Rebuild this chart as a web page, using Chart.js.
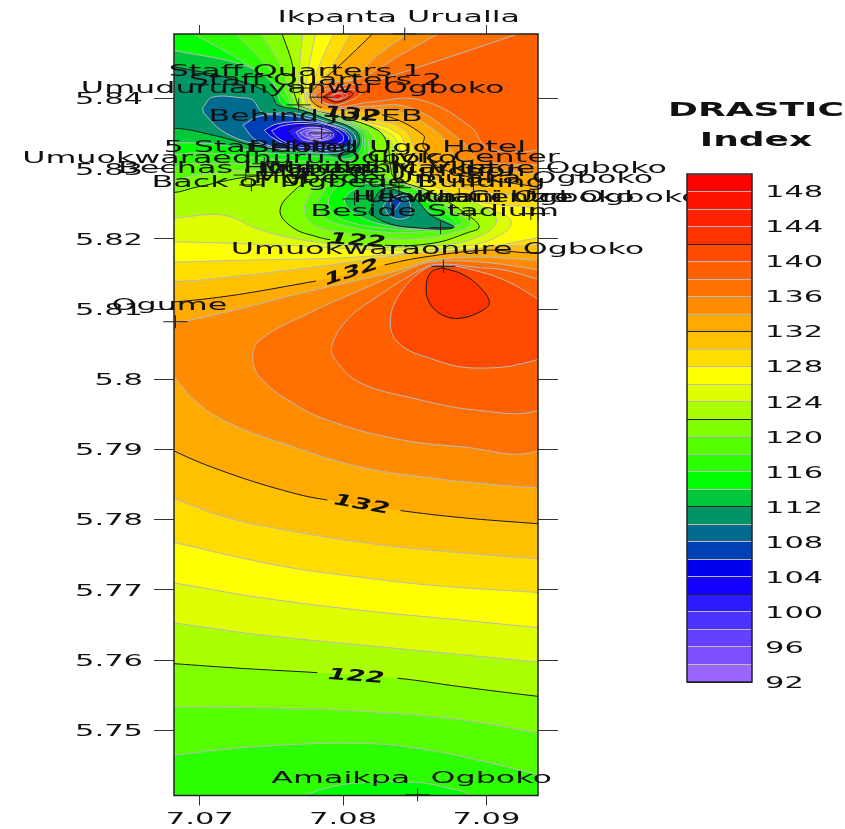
<!DOCTYPE html>
<html>
<head>
<meta charset="utf-8">
<title>DRASTIC Index</title>
<script src="https://cdn.jsdelivr.net/npm/chart.js@4"></script>
<style>
  html, body { margin: 0; padding: 0; background: #fff; }
  #wrap { position: relative; width: 845px; height: 829px; overflow: hidden; }
  #map { position: absolute; left: 0; top: 0; }
  #key { position: absolute; left: 650px; top: 90px; }
</style>
</head>
<body>
<div id="wrap">
  <canvas id="map" width="845" height="829"></canvas>
  <canvas id="key" width="195" height="610"></canvas>
</div>
<script>
// ============================
// 1. Axes, ticks, colour key
// ============================

const lonMin = 7.0682, lonMax = 7.0936;
const latMin = 5.7407, latMax = 5.8492;
const xTicks = [7.07, 7.08, 7.09];
const yTicks = [5.75, 5.76, 5.77, 5.78, 5.79, 5.8, 5.81, 5.82, 5.83, 5.84];

const bandLows = [92, 94, 96, 98, 100, 102, 104, 106, 108, 110, 112, 114, 116, 118, 120,
  122, 124, 126, 128, 130, 132, 134, 136, 138, 140, 142, 144, 146, 148];
const bandColors = ['#9966ff', '#7f4fff', '#6640ff', '#4d33ff', '#2b1aff', '#1400ff', '#0000ee', '#0040b5', '#006a8f', '#009466', '#00c83a', '#00ff00', '#2bff00',
  '#55ff00', '#80ff00', '#aaff00', '#ddff00', '#ffff00', '#ffdd00', '#ffc000', '#ffaa00', '#ff8c00', '#ff7000', '#ff6000', '#ff4a00', '#ff3300', '#ff2200', '#ff1100', '#ff0000'];
const keyLabels = [92, 96, 100, 104, 108, 112, 116, 120, 124, 128, 132, 136, 140, 144, 148];

// ============================
// 2. Sampling sites
// ============================

const siteNames = ['Ikpanta Urualla', 'Staff Quarters 1', 'Staff Quarters 2', 'Umuduruanyanwu Ogboko', 'Behind JUPEB',
  '5 Star Hotel', 'Umuokwaraedhuru Ogboko', 'Bechas Hospital', 'Back of Mgbede Building', 'Behind Ugo Hotel',
  'Civic Center', 'Mechanic Village Ogboko', 'Mgbede Umuaka Ogboko', 'Health Centre', 'Ukwuani Uzo Ogboko', 'Kaani Ogboko',
  'Ogboko Market', 'Mgbede Junction', 'Beside Stadium', 'Umuokwaraonure Ogboko', 'Ogume', 'Amaikpa  Ogboko'];
const siteLon = [7.0843, 7.0771, 7.0785, 7.0769, 7.0785,
  7.0745, 7.0732, 7.0736, 7.0808, 7.0835,
  7.0888, 7.0891, 7.0881, 7.0888, 7.0936, 7.0931,
  7.0829, 7.0839, 7.0868, 7.0870, 7.0683, 7.0852];
const siteLat = [5.8492, 5.8415, 5.8402, 5.8391, 5.8351,
  5.8307, 5.8291, 5.8277, 5.8257, 5.8307,
  5.8293, 5.8277, 5.8263, 5.8236, 5.8236, 5.8236,
  5.8277, 5.8273, 5.8216, 5.8161, 5.8082, 5.7408];

// labels printed on the black contours
const contourLabelValues = [122, 132, 132, 132, 122];
const contourLabelLon = [7.0810, 7.0806, 7.0806, 7.0813, 7.0809];
const contourLabelLat = [5.8197, 5.8152, 5.8377, 5.7821, 5.7576];
const contourLabelAngle = [4, -18, 5, 10, 4];

// ============================
// 3. Contours
// ============================

// corners well outside the frame, the clip cuts them
const W = 7.06, E = 7.1, N = 5.86, S = 5.73;

const north138 = [[7.0926,5.8495],[7.0868,5.8455],[7.0819,5.8424],[7.0798,5.8418],[7.0781,5.8405],[7.0794,5.8389],[7.0819,5.8395],[7.0854,5.8398],[7.0889,5.8360],[7.0900,5.8331],[7.0924,5.8324],[7.0937,5.8327],[7.096,5.8330],[E,S],[W,S],[W,N]];
const north136 = [[7.0869,5.8495],[7.0840,5.8462],[7.0812,5.8429],[7.0791,5.8421],[7.0780,5.8405],[7.0791,5.8387],[7.0815,5.8389],[7.0847,5.8387],[7.0882,5.8341],[7.0896,5.8313],[7.0937,5.8305],[7.096,5.8302],[E,S],[W,S],[W,N]];
const north134 = [[7.0847,5.8495],[7.0822,5.8458],[7.0805,5.8426],[7.0787,5.8424],[7.0778,5.8404],[7.0787,5.8384],[7.0812,5.8384],[7.0840,5.8381],[7.0868,5.8348],[7.0882,5.8313],[7.0937,5.8291],[7.096,5.8284],[E,S],[W,S],[W,N]];
const north132 = [[7.0822,5.8495],[7.0798,5.8448],[7.0785,5.8424],[7.0777,5.8404],[7.0785,5.8387],[7.0827,5.8377],[7.0856,5.8348],[7.0856,5.8331],[7.0871,5.8298],[7.0937,5.8273],[7.0972,5.8256],[7.0972,5.8199],[7.0937,5.8181],[7.0900,5.8184],[7.0856,5.8174],[7.0829,5.8163],[7.0781,5.8140],[7.0681,5.8110],[W,5.811],[W,N]];
const north130 = [[7.0806,5.8495],[7.0787,5.8429],[7.0780,5.8421],[7.0776,5.8404],[7.0783,5.8384],[7.0819,5.8372],[7.0843,5.8355],[7.0850,5.8327],[7.0857,5.8295],[7.0889,5.8270],[7.0937,5.8259],[7.0972,5.8241],[7.0972,5.8206],[7.0937,5.8191],[7.0889,5.8191],[7.0840,5.8177],[7.0791,5.8163],[7.0735,5.8149],[7.0681,5.8139],[W,5.8139],[W,N]];
const north128 = [[7.0794,5.8495],[7.0785,5.8455],[7.0778,5.8419],[7.0774,5.8404],[7.0780,5.8384],[7.0812,5.8369],[7.0838,5.8351],[7.0845,5.8324],[7.0852,5.8291],[7.0889,5.8256],[7.0937,5.8244],[7.0972,5.8234],[7.0972,5.8213],[7.0937,5.8202],[7.0896,5.8187],[7.0854,5.8181],[7.0798,5.8173],[7.0735,5.8170],[7.0681,5.8167],[W,5.8167],[W,N]];
const north126 = [[7.0781,5.8495],[7.0777,5.8455],[7.0774,5.8419],[7.0773,5.8404],[7.0777,5.8387],[7.0806,5.8369],[7.0834,5.8348],[7.0841,5.8320],[7.0847,5.8287],[7.0871,5.8256],[7.0903,5.8241],[7.0917,5.8227],[7.0913,5.8210],[7.0889,5.8191],[7.0840,5.8184],[7.0770,5.8190],[7.0681,5.8196],[W,5.8196],[W,N]];
const north124 = [[7.0772,5.8495],[7.0770,5.8455],[7.0769,5.8419],[7.0770,5.8402],[7.0773,5.8389],[7.0801,5.8369],[7.0830,5.8345],[7.0837,5.8320],[7.0841,5.8284],[7.0868,5.8263],[7.0896,5.8248],[7.0907,5.8224],[7.0889,5.8199],[7.0854,5.8189],[7.0819,5.8189],[7.0789,5.8194],[7.0765,5.8201],[7.0742,5.8213],[7.0716,5.8234],[7.0681,5.8230],[W,5.823],[W,N]];
const north122 = [[7.0757,5.8495],[7.0765,5.8445],[7.0765,5.8419],[7.0767,5.8401],[7.0770,5.8389],[7.0798,5.8374],[7.0824,5.8355],[7.0831,5.8334],[7.0833,5.8305],[7.0836,5.8287],[7.0861,5.8267],[7.0887,5.8234],[7.0895,5.8217],[7.0887,5.8209],[7.0863,5.8194],[7.0829,5.8191],[7.0791,5.8199],[7.0782,5.8203],[7.0765,5.8216],[7.0756,5.8241],[7.0768,5.8273],[7.0777,5.8284],[7.0742,5.8290],[7.0698,5.8274],[7.0681,5.8266],[W,5.8266],[W,N]];
const north120 = [[7.0742,5.8495],[7.0756,5.8448],[7.0762,5.8415],[7.0765,5.8398],[7.0766,5.8391],[7.0793,5.8375],[7.0817,5.8355],[7.0822,5.8334],[7.0824,5.8305],[7.0831,5.8287],[7.0854,5.8270],[7.0882,5.8234],[7.0889,5.8221],[7.0878,5.8210],[7.0857,5.8201],[7.0826,5.8201],[7.0798,5.8210],[7.0780,5.8220],[7.0773,5.8241],[7.0778,5.8266],[7.0787,5.8287],[7.0742,5.8298],[7.0698,5.8291],[7.0681,5.8284],[W,5.8284],[W,N]];
const north118 = [[7.0724,5.8495],[7.0749,5.8441],[7.0759,5.8412],[7.0763,5.8395],[7.0764,5.8389],[7.0789,5.8375],[7.0814,5.8355],[7.0818,5.8331],[7.0817,5.8305],[7.0826,5.8287],[7.0847,5.8274],[7.0875,5.8239],[7.0883,5.8224],[7.0873,5.8216],[7.0854,5.8210],[7.0826,5.8210],[7.0801,5.8219],[7.0787,5.8230],[7.0782,5.8248],[7.0787,5.8270],[7.0796,5.8295],[7.0749,5.8305],[7.0700,5.8308],[7.0681,5.8303],[W,5.8303],[W,N]];
const north116 = [[7.0693,5.8495],[7.0728,5.8455],[7.0752,5.8419],[7.0762,5.8394],[7.0785,5.8375],[7.0812,5.8355],[7.0815,5.8331],[7.0810,5.8315],[7.0794,5.8310],[7.0749,5.8314],[7.0700,5.8323],[7.0681,5.8320],[W,5.832],[W,N]];
const north114 = [[7.0681,5.8469],[7.0730,5.8448],[7.0750,5.8424],[7.0759,5.8389],[7.0783,5.8375],[7.0810,5.8355],[7.0813,5.8331],[7.0805,5.8315],[7.0787,5.8317],[7.0745,5.8323],[7.0711,5.8335],[7.0681,5.8337],[W,5.8337],[W,5.8469]];
const north112 = [[7.0681,5.8446],[7.0721,5.8429],[7.0745,5.8412],[7.0751,5.8402],[7.0754,5.8391],[7.0770,5.8384],[7.0787,5.8372],[7.0808,5.8355],[7.0811,5.8334],[7.0801,5.8320],[7.0787,5.8322],[7.0742,5.8331],[7.0711,5.8347],[7.0681,5.8358],[W,5.8358],[W,5.8446]];

// low around Behind JUPEB
const jupeb110 = [[7.0702,5.8387],[7.0709,5.8402],[7.0730,5.8401],[7.0737,5.8398],[7.0744,5.8380],[7.0765,5.8380],[7.0787,5.8368],[7.0805,5.8354],[7.0809,5.8337],[7.0801,5.8324],[7.0773,5.8324],[7.0742,5.8334],[7.0718,5.8351],[7.0703,5.8379]];
const jupeb108 = [[7.0730,5.8362],[7.0742,5.8375],[7.0765,5.8375],[7.0787,5.8365],[7.0803,5.8352],[7.0806,5.8337],[7.0798,5.8328],[7.0765,5.8327],[7.0740,5.8340]];
const jupeb106 = [[7.0745,5.8355],[7.0754,5.8364],[7.0775,5.8367],[7.0793,5.8360],[7.0803,5.8348],[7.0803,5.8337],[7.0789,5.8331],[7.0765,5.8332],[7.0751,5.8344]];
const jupeb104 = [[7.0750,5.8354],[7.0759,5.8362],[7.0777,5.8364],[7.0793,5.8357],[7.0800,5.8347],[7.0799,5.8338],[7.0787,5.8334],[7.0766,5.8335],[7.0756,5.8342]];
const jupeb102 = [[7.0761,5.8354],[7.0768,5.8361],[7.0786,5.8361],[7.0796,5.8352],[7.0794,5.8342],[7.0784,5.8337],[7.0770,5.8338]];
const jupeb100 = [[7.0767,5.8352],[7.0773,5.8358],[7.0785,5.8358],[7.0793,5.8351],[7.0792,5.8344],[7.0783,5.8340],[7.0772,5.8341]];
const jupeb98 = [[7.0770,5.8351],[7.0776,5.8356],[7.0785,5.8355],[7.0791,5.8351],[7.0790,5.8345],[7.0781,5.8341],[7.0775,5.8344]];
const jupeb96 = [[7.0774,5.8351],[7.0778,5.8354],[7.0785,5.8354],[7.0789,5.8351],[7.0787,5.8347],[7.0781,5.8344],[7.0776,5.8345]];
const jupeb94 = [[7.0778,5.8351],[7.0781,5.8352],[7.0785,5.8352],[7.0786,5.8350],[7.0782,5.8347],[7.0778,5.8348]];

// low near the stadium
const stadium116 = [[7.0805,5.8287],[7.0840,5.8270],[7.0868,5.8241],[7.0879,5.8220],[7.0868,5.8219],[7.0850,5.8213],[7.0826,5.8216],[7.0805,5.8224],[7.0792,5.8238],[7.0791,5.8263]];
const stadium114 = [[7.0815,5.8280],[7.0843,5.8263],[7.0861,5.8238],[7.0878,5.8217],[7.0854,5.8214],[7.0829,5.8220],[7.0810,5.8234],[7.0801,5.8256]];
const stadium112 = [[7.0818,5.8237],[7.0827,5.8270],[7.0842,5.8266],[7.0851,5.8256],[7.0861,5.8234],[7.0877,5.8216],[7.0845,5.8217],[7.0829,5.8224]];
const stadium110 = [[7.0828,5.8247],[7.0834,5.8261],[7.0843,5.8261],[7.0847,5.8247],[7.0845,5.8231],[7.0834,5.8231]];
const stadium108 = [[7.0833,5.8251],[7.0837,5.8260],[7.0841,5.8258],[7.0838,5.8247],[7.0835,5.8241]];

// small peak by the staff quarters
const peak140 = [[7.0783,5.8402],[7.0794,5.8414],[7.0812,5.8408],[7.0798,5.8392],[7.0787,5.8394]];
const peak142 = [[7.0786,5.8402],[7.0795,5.8411],[7.0807,5.8407],[7.0796,5.8395]];
const peak144 = [[7.0790,5.8402],[7.0796,5.8408],[7.0803,5.8405],[7.0796,5.8398]];
const peak146 = [[7.0792,5.8402],[7.0796,5.8407],[7.0800,5.8404],[7.0796,5.8399]];

// big high south of Umuokwaraonure
const high134 = [[7.066,5.8077],[7.0681,5.8080],[7.0719,5.8096],[7.0765,5.8120],[7.0812,5.8142],[7.0840,5.8156],[7.0861,5.8169],[7.0896,5.8174],[7.0937,5.8170],[7.096,5.8173],[E,S],[W,S]];
const high136 = [[7.0937,5.8156],[7.0896,5.8167],[7.0861,5.8167],[7.0845,5.8156],[7.0812,5.8127],[7.0777,5.8095],[7.0742,5.8056],[7.0737,5.8031],[7.0742,5.8003],[7.0765,5.7966],[7.0789,5.7942],[7.0835,5.7916],[7.0882,5.7904],[7.0937,5.7899],[7.0972,5.7971],[7.0972,5.8113]];
const high138 = [[7.0937,5.8142],[7.0912,5.8156],[7.0896,5.8159],[7.0866,5.8164],[7.0854,5.8156],[7.0824,5.8118],[7.0803,5.8085],[7.0792,5.8046],[7.0796,5.8024],[7.0812,5.7995],[7.0847,5.7974],[7.0893,5.7956],[7.0937,5.7956],[7.0965,5.7999],[7.0965,5.8113]];
const high140 = [[7.0937,5.8113],[7.0917,5.8137],[7.0896,5.8153],[7.0868,5.8163],[7.0856,5.8156],[7.0840,5.8123],[7.0833,5.8085],[7.0838,5.8053],[7.0859,5.8031],[7.0893,5.8016],[7.0937,5.8029],[7.0958,5.8056],[7.0958,5.8099]];
const high142 = [[7.0869,5.8159],[7.0884,5.8149],[7.0896,5.8130],[7.0902,5.8110],[7.0898,5.8099],[7.0882,5.8087],[7.0869,5.8092],[7.0860,5.8110],[7.0858,5.8132],[7.0861,5.8152]];

// bands falling off to the south
const south134 = [[7.066,5.8040],[7.0681,5.8006],[7.0695,5.7973],[7.0719,5.7939],[7.0765,5.7904],[7.0812,5.7875],[7.0859,5.7860],[7.0905,5.7850],[7.0937,5.7845],[7.096,5.7842],[E,S],[W,S]];
const south132 = [[7.066,5.7925],[7.0681,5.7899],[7.0719,5.7867],[7.0765,5.7838],[7.0789,5.7828],[7.0840,5.7813],[7.0882,5.7803],[7.0937,5.7794],[7.096,5.7790],[E,S],[W,S]];
const south130 = [[7.066,5.7845],[7.0681,5.7831],[7.0719,5.7803],[7.0766,5.7783],[7.0812,5.7768],[7.0859,5.7757],[7.0937,5.7744],[7.096,5.7741],[E,S],[W,S]];
const south128 = [[7.066,5.7775],[7.0681,5.7768],[7.0719,5.7750],[7.0765,5.7731],[7.0812,5.7718],[7.0859,5.7707],[7.0937,5.7696],[7.096,5.7693],[E,S],[W,S]];
const south126 = [[7.066,5.7715],[7.0681,5.7710],[7.0742,5.7689],[7.0812,5.7671],[7.0882,5.7657],[7.0937,5.7646],[7.096,5.7642],[E,S],[W,S]];
const south124 = [[7.066,5.7657],[7.0681,5.7653],[7.0742,5.7636],[7.0835,5.7617],[7.0937,5.7597],[7.096,5.7592],[E,S],[W,S]];
const south122 = [[7.066,5.7598],[7.0681,5.7595],[7.0730,5.7588],[7.0782,5.7582],[7.0838,5.7574],[7.0882,5.7562],[7.0937,5.7548],[7.096,5.7543],[E,S],[W,S]];
const south120 = [[7.066,5.7533],[7.0681,5.7533],[7.0742,5.7532],[7.0812,5.7527],[7.0882,5.7515],[7.0937,5.7496],[7.096,5.7489],[E,S],[W,S]];
const south118 = [[7.066,5.7458],[7.0681,5.7464],[7.0742,5.7477],[7.0817,5.7481],[7.0859,5.7472],[7.0893,5.7458],[7.0937,5.7437],[7.096,5.7428],[E,S],[W,S]];
const south116 = [[7.0766,5.7401],[7.0789,5.7418],[7.0812,5.7425],[7.0847,5.7426],[7.0870,5.7419],[7.0890,5.7401],[7.0890,5.73],[7.0766,5.73]];

// ============================
// 4. Datasets, painted in order
// ============================

const GREY = '#b9b9b9', BLACK = '#1a1a1a';
const painted = [];

function bandColor(low) {
  return bandColors[bandLows.indexOf(low)];
}

function nearLabel(c, level) {
  const midLon = (c.p0.parsed.x + c.p1.parsed.x) / 2;
  const midLat = (c.p0.parsed.y + c.p1.parsed.y) / 2;
  return contourLabelValues.some((v, i) => v === level &&
    Math.hypot((midLon - contourLabelLon[i]) / 0.002, (midLat - contourLabelLat[i]) / 0.002) < 1);
}

function paint(points, level, band) {
  const data = points.concat([points[0]]).map(p => ({ x: p[0], y: p[1] }));
  const line = level % 10 === 2 ? BLACK : GREY;
  const labelled = contourLabelValues.includes(level);
  const base = { type: 'scatter', showLine: true, data: data, tension: 0.4, pointRadius: 0 };
  // split styles break a shape fill, so labelled contours get their stroke apart
  painted.push(Object.assign({}, base, {
    fill: 'shape',
    backgroundColor: bandColor(band),
    borderColor: labelled ? 'transparent' : line,
    borderWidth: labelled ? 0 : 1
  }));
  if (labelled) {
    painted.push(Object.assign({}, base, {
      fill: false,
      borderColor: line,
      borderWidth: 1,
      segment: { borderColor: c => nearLabel(c, level) ? 'transparent' : undefined }
    }));
  }
}

// region below a level takes the band under it, region above takes the band over it
const below = (points, level) => paint(points, level, level - 2);
const above = (points, level) => paint(points, level, level);

painted.push({ type: 'scatter', showLine: true, fill: 'shape', pointRadius: 0, borderWidth: 0,
  backgroundColor: bandColor(138), data: [[W, N], [E, N], [E, S], [W, S]].map(p => ({ x: p[0], y: p[1] })) });

below(north138, 138); below(north136, 136); below(north134, 134); below(north132, 132);
below(north130, 130); below(north128, 128); below(north126, 126); below(north124, 124);
below(north122, 122); below(north120, 120); below(north118, 118); below(north116, 116);
below(north114, 114); below(north112, 112);

below(jupeb110, 110); below(jupeb108, 108); below(jupeb106, 106); below(jupeb104, 104);
below(jupeb102, 102); below(jupeb100, 100); below(jupeb98, 98); below(jupeb96, 96); below(jupeb94, 94);

below(stadium116, 116); below(stadium114, 114); below(stadium112, 112);
below(stadium110, 110); below(stadium108, 108);

above(peak140, 140); above(peak142, 142); above(peak144, 144); above(peak146, 146);

above(high134, 134); above(high136, 136); above(high138, 138); above(high140, 140); above(high142, 142);

below(south134, 134); below(south132, 132); below(south130, 130); below(south128, 128); below(south126, 126);
below(south124, 124); below(south122, 122); below(south120, 120); below(south118, 118); below(south116, 116);

// crosses are wider than tall, the map was stretched sideways
const sitePoints = siteLon.map((lon, i) => ({ x: lon, y: siteLat[i] }));
painted.push({ type: 'scatter', data: sitePoints, pointStyle: 'line', pointRadius: 12, pointBorderColor: BLACK, pointBorderWidth: 1, clip: false });
painted.push({ type: 'scatter', data: sitePoints, pointStyle: 'line', pointRotation: 90, pointRadius: 6.5, pointBorderColor: BLACK, pointBorderWidth: 1, clip: false });

// ============================
// 5. Wide text and frame
// ============================

function wideText(ctx, text, x, y, opts) {
  ctx.save();
  ctx.translate(x, y);
  ctx.rotate((opts.angle || 0) * Math.PI / 180);
  ctx.scale(opts.stretch, 1);
  ctx.font = (opts.style || '') + ' ' + opts.size + 'px "DejaVu Sans"';
  ctx.fillStyle = '#111';
  ctx.textAlign = opts.align || 'center';
  ctx.textBaseline = 'middle';
  ctx.fillText(text, 0, 0);
  ctx.restore();
}

function drawFrame(chart) {
  const a = chart.chartArea, ctx = chart.ctx;
  ctx.save();
  ctx.strokeStyle = '#222';
  ctx.lineWidth = 1.5;
  ctx.strokeRect(a.left, a.top, a.right - a.left, a.bottom - a.top);
  ctx.restore();
}

const mapText = {
  id: 'mapText',
  afterDraw(chart) {
    const ctx = chart.ctx, x = chart.scales.x, y = chart.scales.y;
    drawFrame(chart);
    x.ticks.forEach(t => wideText(ctx, String(t.value), x.getPixelForValue(t.value), 820, { size: 16.5, stretch: 1.85 }));
    y.ticks.forEach(t => wideText(ctx, String(t.value), 143, y.getPixelForValue(t.value) + 1.5, { size: 16.5, stretch: 1.85, align: 'right' }));
    contourLabelValues.forEach((v, i) => wideText(ctx, String(v), x.getPixelForValue(contourLabelLon[i]), y.getPixelForValue(contourLabelLat[i]),
      { size: 16, stretch: 1.7, style: 'italic bold', angle: contourLabelAngle[i] }));
    siteNames.forEach((name, i) => wideText(ctx, name, x.getPixelForValue(siteLon[i]) - 6, y.getPixelForValue(siteLat[i]) - 16, { size: 15.5, stretch: 2.05 }));
  }
};

const keyText = {
  id: 'keyText',
  afterDraw(chart) {
    const ctx = chart.ctx, y = chart.scales.y;
    drawFrame(chart);
    keyLabels.forEach(v => wideText(ctx, String(v), 115, y.getPixelForValue(v) + 1.5, { size: 16.5, stretch: 1.85, align: 'left' }));
    wideText(ctx, 'DRASTIC', 106, 21, { size: 20, stretch: 1.8, style: 'bold' });
    wideText(ctx, 'Index', 106, 51, { size: 20, stretch: 1.8, style: 'bold' });
  }
};

// ============================
// 6. Charts
// ============================

function tickAxis(position, min, max, ticks, size, tickLength) {
  const horizontal = position === 'top' || position === 'bottom';
  return {
    type: 'linear',
    position: position,
    min: min,
    max: max,
    ticks: { display: false },
    border: { display: false },
    grid: { drawOnChartArea: false, drawTicks: true, tickLength: tickLength, color: '#333' },
    afterBuildTicks: s => { s.ticks = ticks.map(v => ({ value: v })); },
    afterFit: s => { if (horizontal) s.height = size; else s.width = size; }
  };
}

new Chart(document.getElementById('map'), {
  type: 'scatter',
  data: { datasets: painted.slice().reverse() },
  options: {
    responsive: false,
    animation: false,
    events: [],
    layout: { padding: 0 },
    plugins: { legend: { display: false }, tooltip: { enabled: false } },
    scales: {
      x: tickAxis('bottom', lonMin, lonMax, xTicks, 33.5, 10),
      xTop: tickAxis('top', lonMin, lonMax, xTicks, 34, 9),
      y: tickAxis('left', latMin, latMax, yTicks, 174, 20),
      yRight: tickAxis('right', latMin, latMax, yTicks, 307, 20)
    }
  },
  plugins: [mapText]
});

new Chart(document.getElementById('key'), {
  type: 'bar',
  data: {
    labels: ['DRASTIC Index'],
    datasets: bandLows.map((low, i) => ({
      data: [[low, low + 2]],
      backgroundColor: bandColors[i],
      grouped: false,
      barPercentage: 1,
      categoryPercentage: 1
    }))
  },
  options: {
    responsive: false,
    animation: false,
    events: [],
    layout: { padding: { left: 37, right: 93, top: 84, bottom: 18 } },
    plugins: { legend: { display: false }, tooltip: { enabled: false } },
    scales: {
      x: { display: false },
      y: {
        min: 92,
        max: 150,
        ticks: { display: false, stepSize: 2 },
        border: { display: false },
        grid: { z: 1, drawTicks: false, lineWidth: 1, color: c => c.tick.value % 10 === 2 ? '#222' : '#bbb' },
        afterFit: s => { s.width = 0; }
      }
    }
  },
  plugins: [keyText]
});
</script>
</body>
</html>
